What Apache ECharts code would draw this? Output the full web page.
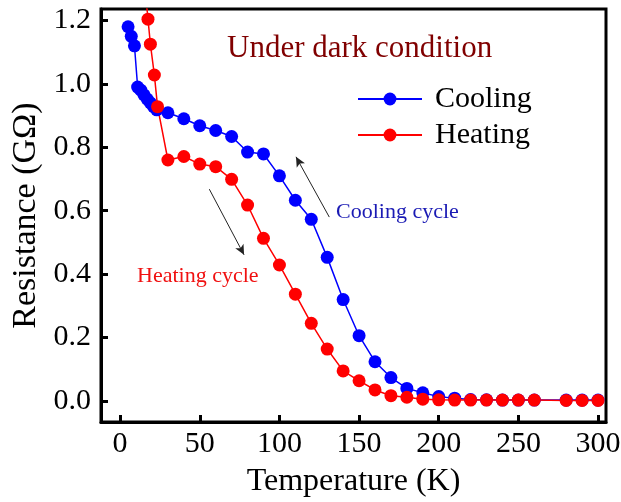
<!DOCTYPE html>
<html>
  <head>
    <meta http-equiv="Content-Type" content="text/html; charset=utf-8">
    <title>Resistance vs Temperature</title>
    <style>
      html, body { margin: 0; padding: 0; background: #fff; }
      #chart { width: 621px; height: 502px; }
    </style>
    <script src="https://cdn.jsdelivr.net/npm/echarts@6/dist/echarts.min.js"></script>
  </head>
  <body>
    <div id="chart"></div>
    <script type="text/javascript">
      // cooling run (K, G-ohm)
      var coolingT = [5, 7, 9, 11, 13, 15, 17, 19, 21, 23, 30, 40, 50, 60, 70, 80, 90, 100, 110, 120,
                      130, 140, 150, 160, 170, 180, 190, 200, 210, 220, 230, 240, 250, 260, 280, 290, 300];
      var coolingR = [1.18, 1.15, 1.12, 0.99, 0.98, 0.965, 0.952, 0.94, 0.928, 0.918, 0.909, 0.89, 0.868, 0.853, 0.834, 0.785, 0.779, 0.71, 0.633, 0.573,
                      0.453, 0.32, 0.206, 0.124, 0.074, 0.04, 0.026, 0.014, 0.009, 0.005, 0.004, 0.003, 0.003, 0.003, 0.003, 0.003, 0.003];
      // heating run
      var heatingT = [16, 17.5, 19, 21.5, 23.5, 30, 40, 50, 60, 70, 80, 90, 100, 110, 120, 130, 140, 150, 160,
                      170, 180, 190, 200, 210, 220, 230, 240, 250, 260, 280, 290, 300];
      var heatingR = [1.28, 1.204, 1.125, 1.028, 0.928, 0.76, 0.771, 0.747, 0.739, 0.699, 0.618, 0.513, 0.429, 0.337, 0.245, 0.164, 0.095, 0.064, 0.035,
                      0.017, 0.012, 0.006, 0.004, 0.003, 0.003, 0.003, 0.003, 0.003, 0.003, 0.002, 0.002, 0.002];
      var xTicks = [0, 50, 100, 150, 200, 250, 300];
      var yTicks = [0, 0.2, 0.4, 0.6, 0.8, 1.0, 1.2];
      // arrows [from, to] in data units
      var coolArrow = [[131.3, 0.58], [110.4, 0.77]];
      var heatArrow = [[56, 0.668], [77.8, 0.461]];

      function pairs(xs, ys) {
        return xs.map(function (x, i) { return [x, ys[i]]; });
      }
      var serif = 'Liberation Serif';

      var chart = echarts.init(document.getElementById('chart'));
      chart.setOption({
        animation: false,
        textStyle: { fontFamily: serif },
        grid: {
          left: 101, right: 15, top: 9, bottom: 80, outerBoundsMode: 'none',
          show: true, borderColor: '#000', borderWidth: 3
        },
        title: {
          text: 'Under dark condition', left: 222, top: 28,
          textStyle: { fontFamily: serif, fontWeight: 'normal', fontSize: 31, color: '#800000' }
        },
        legend: {
          orient: 'vertical', left: 352, top: 79, itemWidth: 64, itemHeight: 16, itemGap: 6,
          data: ['Cooling', 'Heating'],
          textStyle: { fontFamily: serif, fontSize: 30, color: '#000', lineHeight: 30, padding: [0, 0, 0, 8] }
        },
        xAxis: {
          type: 'value', min: -12, max: 305,
          name: 'Temperature (K)', nameLocation: 'middle', nameGap: 44,
          nameTextStyle: { fontFamily: serif, fontSize: 32, color: '#000' },
          splitLine: { show: false },
          axisLine: { show: true, onZero: false, lineStyle: { color: '#000', width: 3 } },
          axisTick: { inside: true, length: 7, lineStyle: { color: '#000', width: 3 }, customValues: xTicks },
          axisLabel: { fontFamily: serif, fontSize: 30, color: '#000', margin: 7, customValues: xTicks }
        },
        yAxis: {
          type: 'value', min: -0.066, max: 1.236,
          name: 'Resistance (G\u03A9)', nameLocation: 'middle', nameGap: 55,
          nameTextStyle: { fontFamily: serif, fontSize: 34, color: '#000' },
          splitLine: { show: false },
          axisLine: { show: true, onZero: false, lineStyle: { color: '#000', width: 3 } },
          axisTick: { inside: true, length: 7, lineStyle: { color: '#000', width: 3 }, customValues: yTicks },
          axisLabel: {
            fontFamily: serif, fontSize: 30, color: '#000', margin: 10, customValues: yTicks,
            formatter: function (v) { return v.toFixed(1); }
          }
        },
        graphic: [
          { type: 'text', left: 336, top: 201,
            style: { text: 'Cooling cycle', fontFamily: serif, fontSize: 22, fill: '#1a1ab4' } },
          { type: 'text', left: 137, top: 265,
            style: { text: 'Heating cycle', fontFamily: serif, fontSize: 22, fill: '#f01010' } }
        ],
        series: [
          {
            name: 'Cooling', type: 'line', data: pairs(coolingT, coolingR),
            symbol: 'circle', symbolSize: 13, showAllSymbol: true,
            lineStyle: { color: '#0000ff', width: 1.5 }, itemStyle: { color: '#0000ff' },
            emphasis: { disabled: true },
            markLine: {
              silent: true, symbol: ['none', 'arrow'], symbolSize: [7, 10],
              lineStyle: { color: '#222', width: 1, type: 'solid' }, label: { show: false },
              data: [
                [{ coord: coolArrow[0] }, { coord: coolArrow[1] }],
                [{ coord: heatArrow[0] }, { coord: heatArrow[1] }]
              ]
            }
          },
          {
            name: 'Heating', type: 'line', data: pairs(heatingT, heatingR),
            symbol: 'circle', symbolSize: 13, showAllSymbol: true,
            lineStyle: { color: '#ff0000', width: 1.5 }, itemStyle: { color: '#ff0000' },
            emphasis: { disabled: true }
          }
        ]
      });
    </script>
  </body>
</html>
